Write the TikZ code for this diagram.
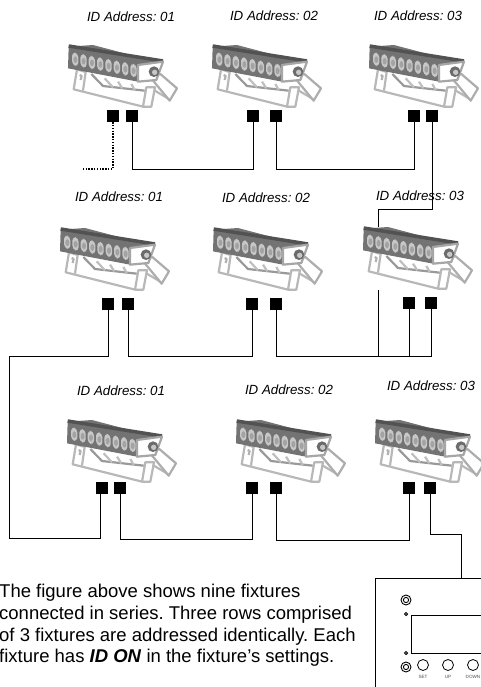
\documentclass[tikz,border=0pt]{standalone}
\usepackage{fontspec}
\setmainfont{Liberation Sans}
\frenchspacing
\tikzset{
  wire/.style={line width=1pt,black,line join=miter},
  dotwire/.style={line width=1.2pt,black,dash pattern=on 1.4pt off 1.4pt},
  port/.style={fill=black,draw=none,minimum width=12pt,minimum height=12pt,inner sep=0pt},
  idlabel/.style={font=\fontsize{13.3}{15}\selectfont\itshape,inner sep=0pt},
  btnlabel/.style={font=\fontsize{4.6}{5}\selectfont,text=black!70,inner sep=0pt},
  panelline/.style={line width=0.9pt,black},
  pics/fixture/.style={code={
    \begin{scope}[scale=1/3,shift={(-205,-135)},line width=2.2pt,line join=round]
      % bracket
      \draw[draw=black!28,fill=white] (232,208)--(222,268)--(430,320)--(455,320)--(466,262)--(440,262)--(430,320);
      \draw[draw=black!28] (232,208)--(258,216)--(250,272);
      \draw[draw=black!30] (240,225)--(246,228)--(243,240);
      \draw[draw=black!40] (275,222)--(310,258)--(435,272);
      \draw[draw=black!25] (315,235)--(340,262) (355,245)--(368,265) (395,252)--(405,270);
      % foot and arm
      \draw[draw=black!28] (462,270)--(508,297);
      \draw[draw=black!32,fill=white] (452,232)--(482,222)--(532,265)--(510,302)--cycle;
      % head
      \fill[black!55] (207,140)--(280,135)--(420,172)--(490,183)--(415,195)--(415,245)--(205,205)--cycle;
      \draw[draw=black!68,line width=3.5pt] (207,138)--(490,183);
      \draw[draw=black!35,fill=white] (415,195)--(490,185)--(470,240)--(415,245)--cycle;
      \foreach \i in {0,...,7}{
        \fill[black!22,rounded corners=4pt]
          ({217+\i*25},{156+\i*4.8})--({236+\i*25},{160+\i*4.8})--({236+\i*25},{200+\i*4.8})--({217+\i*25},{195+\i*4.8})--cycle;
        \fill[black!36] ({227+\i*25},{179+\i*4.8}) ellipse (6 and 10);
      }
      % pivot
      \fill[black!58] (463,215) circle (16);
      \fill[black!22] (465,217) circle (8);
    \end{scope}
  }}
}
\begin{document}
\begin{tikzpicture}[x=1pt,y=-1pt]
\clip (0,0) rectangle (481,687);
% fixtures
\pic at (68,45) {fixture};
\pic at (212,45) {fixture};
\pic at (369,45) {fixture};
\pic at (60,228) {fixture};
\pic at (213,228) {fixture};
\pic at (363,227) {fixture};
\pic at (67,420) {fixture};
\pic at (236,420) {fixture};
\pic at (375,420) {fixture};
% labels
\node[idlabel] (la1) at (131,17) {ID Address: 01};
\node[idlabel] (la2) at (274,16) {ID Address: 02};
\node[idlabel] (la3) at (418,16) {ID Address: 03};
\node[idlabel] (lb1) at (119,197) {ID Address: 01};
\node[idlabel] (lb2) at (266,198) {ID Address: 02};
\node[idlabel] (lb3) at (420,196) {ID Address: 03};
\node[idlabel] (lc1) at (121,391) {ID Address: 01};
\node[idlabel] (lc2) at (289,390) {ID Address: 02};
\node[idlabel] (lc3) at (431,386) {ID Address: 03};
% ports
\node[port] (a1i) at (113,116) {};
\node[port] (a1o) at (132,116) {};
\node[port] (a2i) at (253,116) {};
\node[port] (a2o) at (276,116) {};
\node[port] (a3i) at (414,116) {};
\node[port] (a3o) at (432,116) {};
\node[port] (b1i) at (108,303.5) {};
\node[port] (b1o) at (128,303.5) {};
\node[port] (b2i) at (252,303.5) {};
\node[port] (b2o) at (276,303.5) {};
\node[port] (b3i) at (409,303) {};
\node[port] (b3o) at (431,303) {};
\node[port] (c1i) at (102,487.5) {};
\node[port] (c1o) at (120,487.5) {};
\node[port] (c2i) at (252,487.5) {};
\node[port] (c2o) at (276,487.5) {};
\node[port] (c3i) at (409,487.5) {};
\node[port] (c3o) at (430,487.5) {};
% free ends
\coordinate (dotend) at (83,169);
\coordinate (topstub) at (378,227);
\coordinate (lowstub) at (378,290);
\coordinate (paneltap) at (461,577.5);
% row 1
\draw[dotwire] (a1i.south) |- (dotend);
\draw[wire] (a1o.south) -- ++(0,47) -| (a2i.south);
\draw[wire] (a2o.south) -- ++(0,47) -| (a3i.south);
\draw[wire] (a3o.south) |- (378,209) -- (topstub);
% row 2
\draw[wire] (b1o.south) -- ++(0,46.5) -| (b2i.south);
\draw[wire] (b2o.south) -- ++(0,46.5) -| (b3o.south);
\draw[wire] (b3i.south) -- ++(0,47);
\draw[wire] (lowstub) -- ++(0,66);
\draw[wire] (b1i.south) -- ++(0,46.5) -| (9,538) -| ([xshift=-2pt]c1i.south);
% row 3
\draw[wire] (c1o.south) -- ++(0,46) -| (c2i.south);
\draw[wire] (c2o.south) -- ++(0,46.5) -| (c3i.south);
\draw[wire] (c3o.south) -- ++(0,41) -| (paneltap);
% panel
\draw[panelline] (490,578) -- (375,578) -- (375,700);
\draw[panelline] (490,615) -- (411,615) -- (411,653) -- (490,653);
\foreach \n/\yy in {ca/600,cb/667}{
  \draw[line width=0.9pt] (406,\yy) circle (5);
  \draw[line width=0.9pt] (406,\yy) circle (2.6);
}
\draw[line width=0.9pt] (406,614) circle (1.6);
\draw[line width=0.9pt] (406,653) circle (1.6);
\foreach \xx in {423,448,473}{\draw[line width=0.8pt] (\xx,665) circle (5.5);}
\node[btnlabel] (bset) at (423,677) {SET};
\node[btnlabel] (bup) at (448,677) {UP};
\node[btnlabel] (bdown) at (473,677) {DOWN};
% text
\node[anchor=north west,inner sep=0pt,align=left,font=\fontsize{18.5}{21.7}\selectfont] (para) at (-1,584)
 {The figure above shows nine fixtures\\connected in series. Three rows comprised\\of 3 fixtures are addressed identically. Each\\fixture has \textbf{\textit{ID ON}} in the fixture’s settings.};
\end{tikzpicture}
\end{document}
